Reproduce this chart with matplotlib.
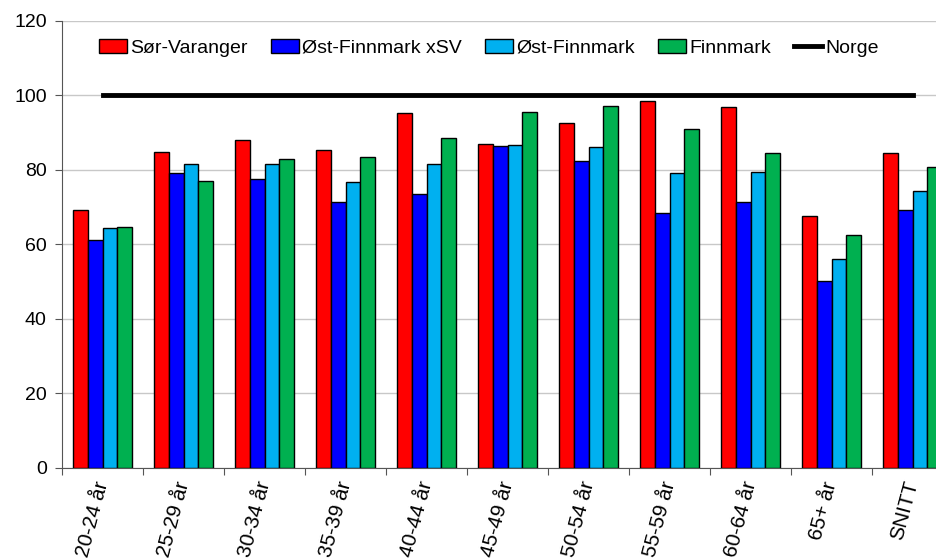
import numpy as np
import matplotlib
matplotlib.use("Agg")
import matplotlib.pyplot as plt

plt.rcParams['font.family'] = ['Liberation Sans', 'DejaVu Sans']

groups = ['20-24 år', '25-29 år', '30-34 år', '35-39 år', '40-44 år', '45-49 år',
          '50-54 år', '55-59 år', '60-64 år', '65+ år', 'SNITT']
sor_varanger = [69.1, 84.8, 88.0, 85.2, 95.3, 86.8, 92.6, 98.4, 96.8, 67.6, 84.4]
ost_xsv = [61.1, 79.2, 77.4, 71.3, 73.6, 86.4, 82.4, 68.4, 71.3, 50.0, 69.1]
ost_finnmark = [64.4, 81.5, 81.5, 76.6, 81.6, 86.5, 86.2, 79.2, 79.5, 55.9, 74.4]
finnmark = [64.7, 77.0, 82.8, 83.3, 88.4, 95.6, 97.0, 91.0, 84.5, 62.6, 80.8]
norge = [100] * len(groups)

series = [('Sør-Varanger', sor_varanger, '#FF0000'),
          ('Øst-Finnmark xSV', ost_xsv, '#0000FF'),
          ('Øst-Finnmark', ost_finnmark, '#00B0F0'),
          ('Finnmark', finnmark, '#00B050')]

fig = plt.figure(figsize=(9.37, 5.59), dpi=100)
ax = fig.add_axes([0.0662, 0.1633, 0.951, 0.7997])

x = np.arange(len(groups))
w = 0.18
handles = []
for i, (name, vals, col) in enumerate(series):
    b = ax.bar(x + (i - 1.5) * w, vals, w, color=col, edgecolor='black', linewidth=1,
               label=name, zorder=3)
    handles.append(b)
line, = ax.plot(x, norge, color='black', linewidth=3.5, label='Norge', zorder=4)
handles.append(line)

ax.set_xlim(-0.5, len(groups) - 0.5)
ax.set_ylim(0, 120)
ax.set_yticks(range(0, 121, 20))
ax.yaxis.grid(True, color='#c8c8c8', linewidth=1, zorder=0)

ax.set_xticks(np.arange(-0.5, len(groups), 1))
ax.set_xticklabels([])
ax.set_xticks(x, minor=True)
ax.set_xticklabels(groups, minor=True, rotation=75, ha='right', va='center',
                   rotation_mode='anchor', fontsize=15)
ax.tick_params(axis='x', which='minor', length=0, pad=10)
ax.tick_params(axis='x', which='major', length=5, color='#555555')
ax.tick_params(axis='y', length=5, color='#555555', labelsize=14, pad=6)

for s in ['top', 'right']:
    ax.spines[s].set_visible(False)
for s in ['left', 'bottom']:
    ax.spines[s].set_color('#555555')

ax.legend(handles=handles, loc='center', bbox_to_anchor=(0.479, 0.939), ncol=5,
          frameon=False, fontsize=14, handlelength=1.45, handletextpad=0.15,
          columnspacing=1.2)

fig.savefig('out.png', dpi=100)
